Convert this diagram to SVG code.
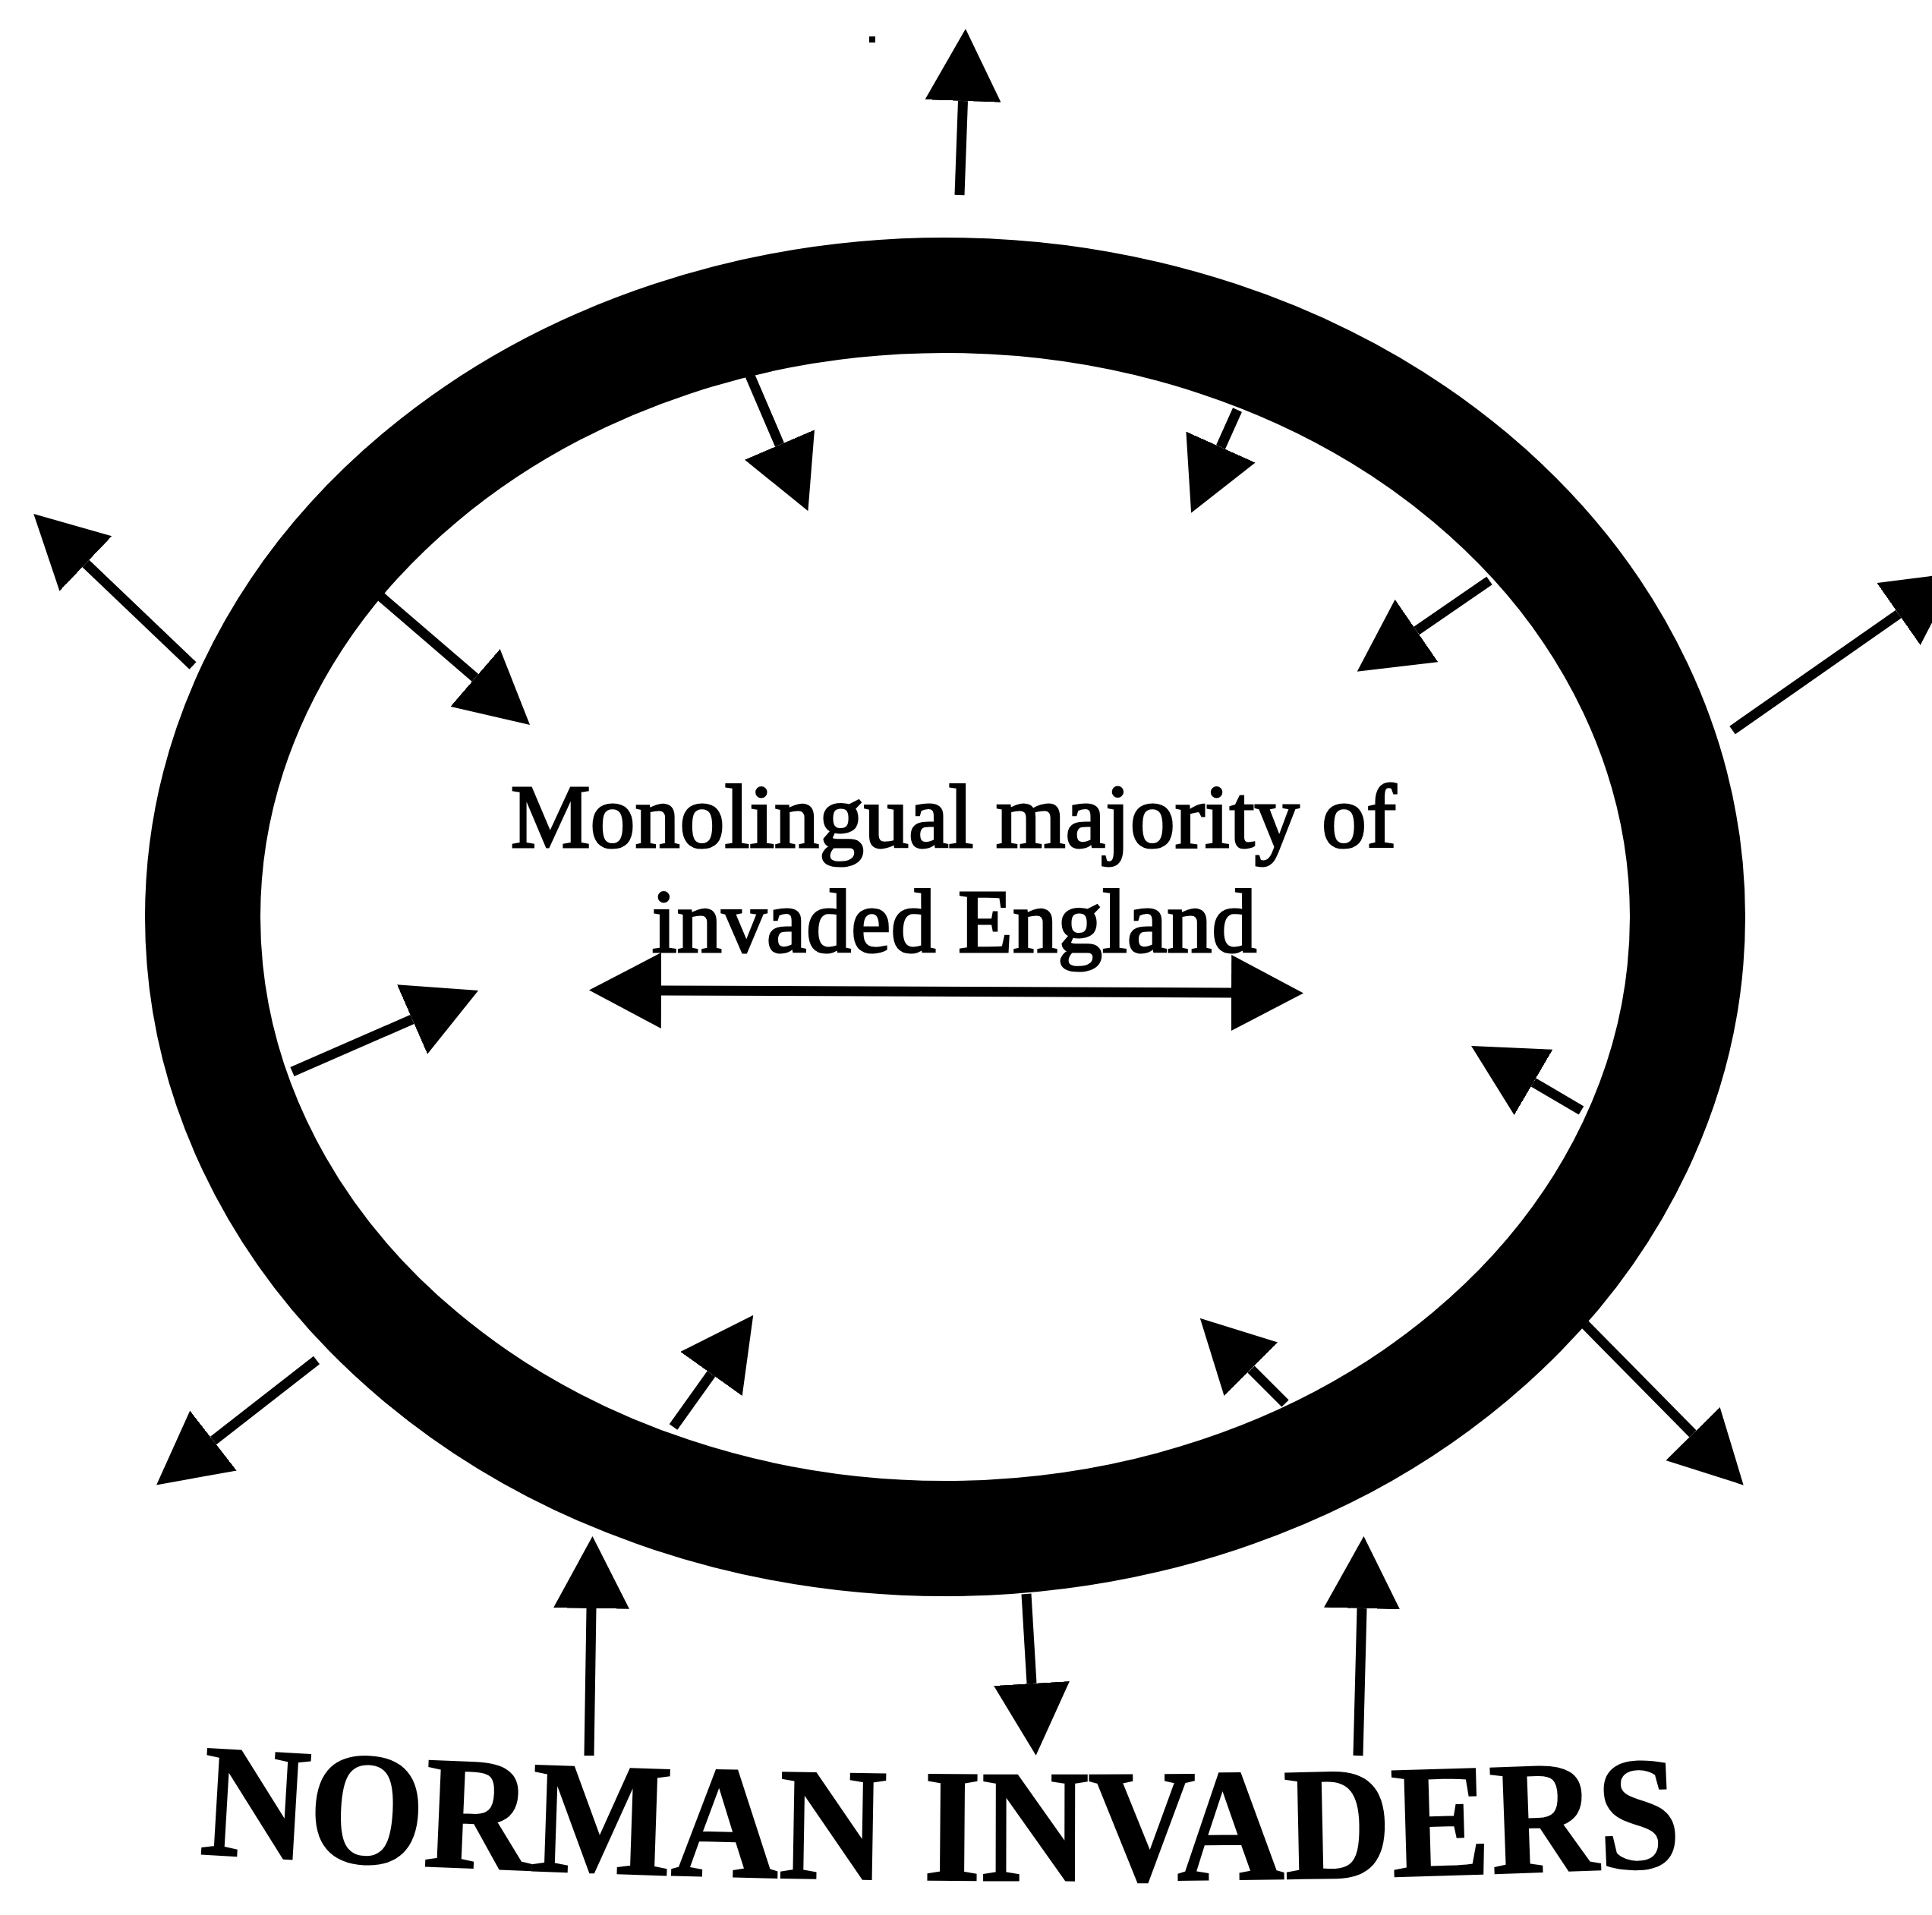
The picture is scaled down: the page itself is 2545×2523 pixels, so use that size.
<svg xmlns="http://www.w3.org/2000/svg" width="2545" height="2523" viewBox="0 0 2545 2523">
<style>
.lbl{font-family:"Liberation Serif","Times New Roman",serif;fill:#000;stroke:#000;stroke-width:3;font-size:118px;text-anchor:middle}
.big{font-family:"Liberation Serif","Times New Roman",serif;font-weight:bold;fill:#000;stroke:#000;stroke-width:2;font-size:212px}
.sh{stroke:#000;stroke-width:13;fill:none;marker-end:url(#ah)}
</style>
<defs>
<marker id="ah" viewBox="0 0 95 100" refX="0" refY="50" markerWidth="95" markerHeight="100" markerUnits="userSpaceOnUse" orient="auto-start-reverse">
<path d="M0,0 L95,50 L0,100 Z" fill="#000"/>
</marker>
<path id="arc" d="M262,2442 Q1244,2504 2226,2458"/>
</defs>
<rect width="2545" height="2523" fill="#fff"/>
<g id="ring">
<ellipse cx="1245" cy="1208" rx="978" ry="819" fill="none" stroke="#000" stroke-width="152"/>
</g>
<rect x="1145" y="48" width="8" height="8" fill="#000"/>
<g id="label-center">
<text class="lbl" x="1256" y="1116">Monolingual majority of</text>
<text class="lbl" x="1257" y="1254">invaded England</text>
</g>
<g id="label-normans">
<text class="big"><textPath href="#arc" textLength="1955" lengthAdjust="spacingAndGlyphs">NORMAN INVADERS</textPath></text>
</g>
<g id="connectors">
<line class="sh" x1="1264" y1="257" x2="1268.5" y2="133"/>
<line class="sh" x1="254" y1="877" x2="113" y2="742.5"/>
<line class="sh" x1="497" y1="782" x2="626" y2="893"/>
<line class="sh" x1="988" y1="495" x2="1027" y2="586"/>
<line class="sh" x1="1630" y1="540" x2="1608" y2="589"/>
<line class="sh" x1="1962" y1="765" x2="1866" y2="831"/>
<line class="sh" x1="2282" y1="962" x2="2501" y2="809"/>
<line class="sh" x1="385" y1="1412" x2="543" y2="1343"/>
<line class="sh" x1="871" y1="1305" x2="1622" y2="1308" style="marker-start:url(#ah)"/>
<line class="sh" x1="2083" y1="1463" x2="2020" y2="1426"/>
<line class="sh" x1="417" y1="1792" x2="281" y2="1898"/>
<line class="sh" x1="887" y1="1880" x2="937" y2="1810"/>
<line class="sh" x1="1693" y1="1849" x2="1648" y2="1804"/>
<line class="sh" x1="2086" y1="1743" x2="2230" y2="1889"/>
<line class="sh" x1="776" y1="2313" x2="779" y2="2119"/>
<line class="sh" x1="1352" y1="2100" x2="1359" y2="2218"/>
<line class="sh" x1="1789" y1="2313" x2="1794" y2="2119"/>
</g>
</svg>
